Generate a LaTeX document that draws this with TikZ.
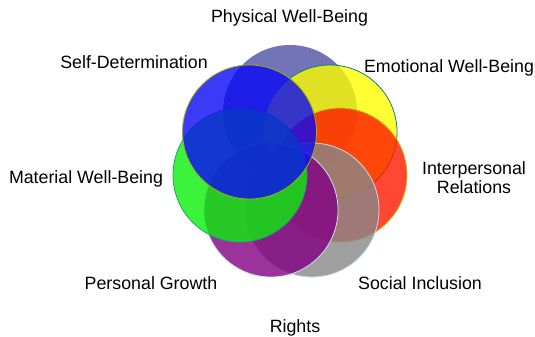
\documentclass[tikz,border=0pt]{standalone}
\usepackage{fontspec}
\setmainfont{Liberation Sans}
\begin{document}
\begin{tikzpicture}[x=1pt,y=-1pt,
  qdisc/.style={circle,minimum size=134pt,inner sep=0pt,fill opacity=0.8,line width=0.8pt},
  lbl/.style={anchor=base,inner sep=0pt,text=black,font=\fontsize{17.8}{20}\selectfont}]
\useasboundingbox (0,0) rectangle (535,337);
\definecolor{physc}{RGB}{80,80,165}
\definecolor{emoc}{RGB}{255,255,0}
\definecolor{intc}{RGB}{255,25,0}
\definecolor{socc}{RGB}{135,135,135}
\definecolor{perc}{RGB}{130,0,130}
\definecolor{matc}{RGB}{10,240,10}
\definecolor{selfc}{RGB}{10,10,245}
% overlapping domains, bottom to top
\node[qdisc,fill=physc] (phys) at (290,112) {};
\node[qdisc,fill=emoc,draw=teal] (emo) at (330,132) {};
\node[qdisc,fill=intc,draw={rgb,255:red,190;green,200;blue,0}] (inter) at (340,175) {};
\node[qdisc,fill=socc,draw={rgb,255:red,200;green,220;blue,235}] (soc) at (312,210) {};
\node[qdisc,fill=perc,draw={rgb,255:red,200;green,225;blue,240}] (pers) at (271,210) {};
\node[qdisc,fill=matc,draw={rgb,255:red,30;green,160;blue,120}] (mat) at (240,175) {};
\node[qdisc,fill=selfc,draw={rgb,255:red,160;green,180;blue,0}] (self) at (249.5,132) {};
% labels
\node[lbl] (lphys) at (289.5,23) {Physical Well-Being};
\node[lbl] (lself) at (134,69) {Self-Determination};
\node[lbl] (lemo) at (449,72) {Emotional Well-Being};
\node[lbl] (linter) at (474,174) {Interpersonal};
\node[lbl] (linter2) at (474,193) {Relations};
\node[lbl] (lmat) at (86,183) {Material Well-Being};
\node[lbl] (lpers) at (151,289) {Personal Growth};
\node[lbl] (lsoc) at (420,289) {Social Inclusion};
\node[lbl] (lrights) at (295,332) {Rights};
\end{tikzpicture}
\end{document}
